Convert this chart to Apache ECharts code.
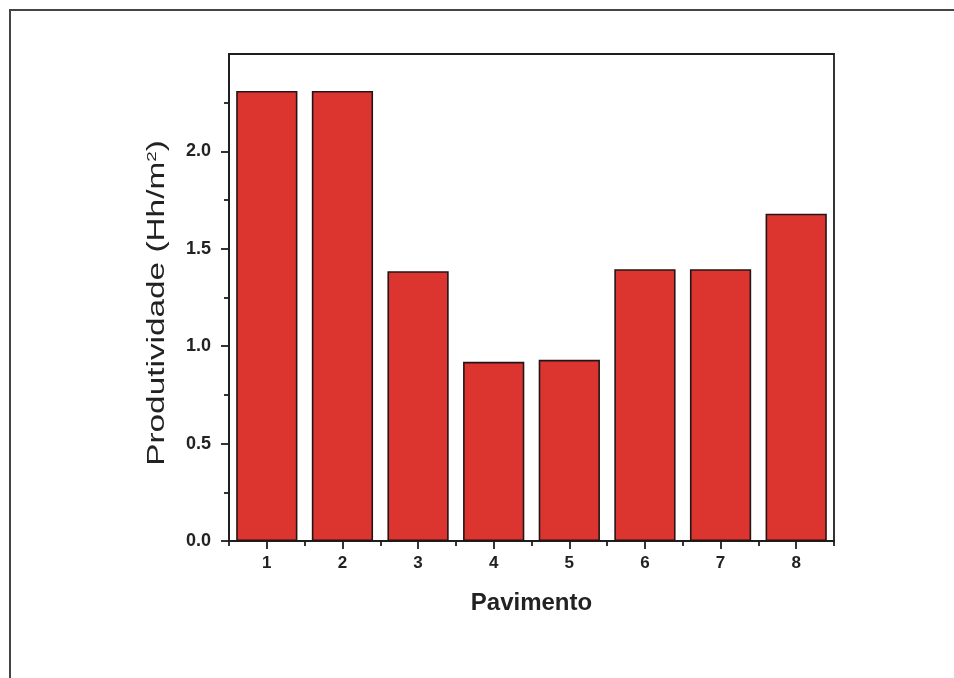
<!DOCTYPE html>
<html>
<head>
<meta charset="utf-8">
<script src="https://cdn.jsdelivr.net/npm/echarts@6/dist/echarts.min.js"></script>
<style>
html,body{margin:0;padding:0;background:#fff;}
#chart{width:954px;height:678px;}
</style>
</head>
<body>
<div id="chart"></div>
<script>
var categories = ['1','2','3','4','5','6','7','8'];
var productivity = [2.31, 2.31, 1.385, 0.92, 0.93, 1.395, 1.395, 1.68];
var yTickLabels = ['0.0','0.5','1.0','1.5','2.0'];
var yTickValues = [0, 0.5, 1.0, 1.5, 2.0];

var chart = echarts.init(document.getElementById('chart'));
var font = '"Liberation Sans", Arial, sans-serif';
var ink = '#1e1e1e';
chart.setOption({
  backgroundColor: '#ffffff',
  animation: false,
  grid: {left: 229, right: 120, top: 54, bottom: 137, show: true, borderColor: ink, borderWidth: 1.8, backgroundColor: 'transparent'},
  xAxis: [{
    type: 'category',
    data: categories,
    name: 'Pavimento',
    nameLocation: 'middle',
    nameGap: 50,
    nameTextStyle: {fontFamily: font, fontSize: 24, fontWeight: 'bold', color: '#222'},
    axisLine: {lineStyle: {color: ink, width: 1.8}},
    axisTick: {show: true, alignWithLabel: true, length: 8, lineStyle: {color: ink, width: 1.8}},
    axisLabel: {fontFamily: font, fontSize: 17, fontWeight: 'bold', color: '#222', margin: 14}
  }, {
    type: 'category',
    data: categories,
    position: 'bottom',
    axisLine: {show: true, lineStyle: {color: ink, width: 1.8}},
    axisTick: {show: true, alignWithLabel: false, length: 5, lineStyle: {color: ink, width: 1.8}},
    axisLabel: {show: false}
  }],
  yAxis: {
    type: 'value',
    min: 0, max: 2.5, interval: 0.5,
    splitLine: {show: false},
    axisLine: {show: true, lineStyle: {color: ink, width: 1.8}},
    axisTick: {show: true, length: 8, customValues: yTickValues, lineStyle: {color: ink, width: 1.8}},
    minorTick: {show: true, splitNumber: 2, length: 5, lineStyle: {color: ink, width: 1.8}},
    axisLabel: {
      fontFamily: font, fontSize: 18, fontWeight: 'bold', color: '#222', margin: 18,
      formatter: function (v) { var i = Math.round(v / 0.5); return i < yTickLabels.length ? yTickLabels[i] : ''; }
    }
  },
  series: [{
    type: 'bar',
    data: productivity,
    barCategoryGap: '19%',
    itemStyle: {color: '#dc3530', borderColor: '#231515', borderWidth: 1.6}
  }],
  graphic: [
    {type: 'line', shape: {x1: 9, y1: 10, x2: 954, y2: 10}, style: {stroke: '#444', lineWidth: 2}},
    {type: 'line', shape: {x1: 10, y1: 10, x2: 10, y2: 678}, style: {stroke: '#444', lineWidth: 2}},
    {
      type: 'text', x: 158, y: 303, rotation: Math.PI / 2, scaleX: 1.45, scaleY: 1,
      style: {
        text: '{a|Produtividade (Hh/m}{s|2}{a|)}',
        align: 'center', verticalAlign: 'middle',
        rich: {
          a: {fontFamily: font, fontSize: 23, fill: '#222'},
          s: {fontFamily: font, fontSize: 13, fill: '#222', padding: [0, 0, 12, 0]}
        }
      }
    }
  ]
});
</script>
</body>
</html>
